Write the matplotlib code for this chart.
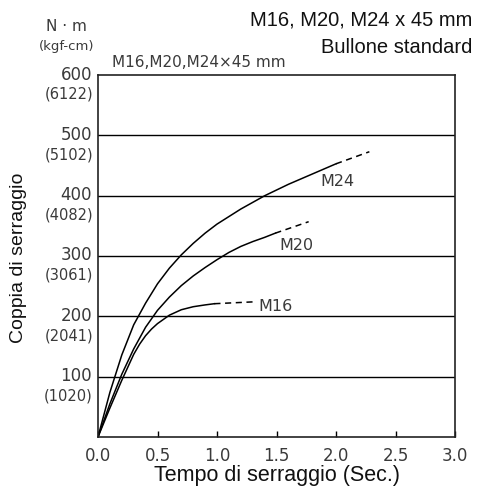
import numpy as np
import matplotlib
matplotlib.use("Agg")
import matplotlib.pyplot as plt
from matplotlib.transforms import blended_transform_factory

# ── Data ──────────────────────────────────────────────────────────────────────
m16_t = [0.0, 0.1, 0.2, 0.3, 0.35, 0.4, 0.45, 0.5, 0.6, 0.7, 0.8, 0.9, 0.978]
m16_v = [0, 48, 94, 137, 154, 168, 179, 188, 202, 211, 216, 219, 221]
m16_dash_t = [0.978, 1.30]
m16_dash_v = [221, 224]

m20_t = [0.0, 0.1, 0.2, 0.3, 0.4, 0.5, 0.6, 0.7, 0.8, 0.9, 1.0, 1.1, 1.2, 1.3,
         1.4, 1.49]
m20_v = [0, 55, 104, 146, 182, 210, 232, 251, 267, 281, 294, 306, 316, 324,
         331, 338]
m20_dash_t = [1.49, 1.77]
m20_dash_v = [338, 357]

m24_t = [0.0, 0.1, 0.2, 0.3, 0.4, 0.5, 0.6, 0.7, 0.8, 0.9, 1.0, 1.2, 1.4, 1.6,
         1.8, 2.0]
m24_v = [0, 74, 136, 186, 222, 254, 280, 302, 321, 338, 353, 378, 400, 419,
         436, 453]
m24_dash_t = [2.0, 2.28]
m24_dash_v = [453, 473]

y_ticks = [100, 200, 300, 400, 500, 600]
y_kgf = ["(1020)", "(2041)", "(3061)", "(4082)", "(5102)", "(6122)"]
x_ticks = [0.0, 0.5, 1.0, 1.5, 2.0, 2.5, 3.0]

TXT = "#3a3a3a"
DV = ["DejaVu Sans"]
AR = ["Liberation Sans", "DejaVu Sans"]

# ── Figure ─────────────────────────────────────────────────────────────────────
fig = plt.figure(figsize=(4.78, 4.87), dpi=100)
ax = fig.add_axes([0.205, 0.1027, 0.747, 0.743])

for t, v, dt, dv in [(m16_t, m16_v, m16_dash_t, m16_dash_v),
                     (m20_t, m20_v, m20_dash_t, m20_dash_v),
                     (m24_t, m24_v, m24_dash_t, m24_dash_v)]:
    ax.plot(t, v, color="black", lw=1.1, solid_joinstyle="round")
    ax.plot(dt, dv, color="black", lw=1.1, ls=(0, (4, 3)))

for y in y_ticks[:-1]:
    ax.axhline(y, color="black", lw=1.0, zorder=0)

ax.set_xlim(0, 3.0)
ax.set_ylim(0, 600)
for s in ax.spines.values():
    s.set_color("#222222")
    s.set_linewidth(1.2)

ax.set_xticks(x_ticks)
ax.set_xticklabels([f"{x:.1f}" for x in x_ticks], fontsize=12, color=TXT,
                   family=DV)
ax.tick_params(axis="x", direction="in", length=4, width=1, pad=7)
ax.set_yticks([])

# two-line y tick labels
tr = blended_transform_factory(ax.transAxes, ax.transData)
for y, k in zip(y_ticks, y_kgf):
    ax.text(-0.017, y + 1, str(y), transform=tr, ha="right", va="center",
            fontsize=12, color=TXT, family=DV)
    ax.text(-0.014, y - 32, k, transform=tr, ha="right", va="center",
            fontsize=10.5, color=TXT, family=DV)

# curve labels
ax.text(1.87, 424, "M24", fontsize=11.5, color=TXT, family=DV, va="center")
ax.text(1.52, 318, "M20", fontsize=11.5, color=TXT, family=DV, va="center")
ax.text(1.345, 217, "M16", fontsize=11.5, color=TXT, family=DV, va="center")

ax.set_xlabel("Tempo di serraggio (Sec.)", fontsize=15.5, color="#111111",
              family=AR, labelpad=0)
fig.text(0.038, 0.47, "Coppia di serraggio", rotation=90, ha="center",
         va="center", fontsize=14, color="#111111", family=AR)

# header texts
fig.text(0.988, 0.958, "M16, M20, M24 x 45 mm", ha="right", va="center",
         fontsize=14.5, color="#111111", family=AR)
fig.text(0.988, 0.903, "Bullone standard", ha="right", va="center",
         fontsize=14.5, color="#111111", family=AR)
fig.text(0.14, 0.945, "N · m", ha="center", va="center", fontsize=11,
         color=TXT, family=DV)
fig.text(0.14, 0.905, "(kgf-cm)", ha="center", va="center", fontsize=9.5,
         color=TXT, family=DV)
fig.text(0.234, 0.872, "M16,M20,M24×45 mm", ha="left", va="center",
         fontsize=11, color=TXT, family=DV)

fig.savefig("out.png", dpi=100)
